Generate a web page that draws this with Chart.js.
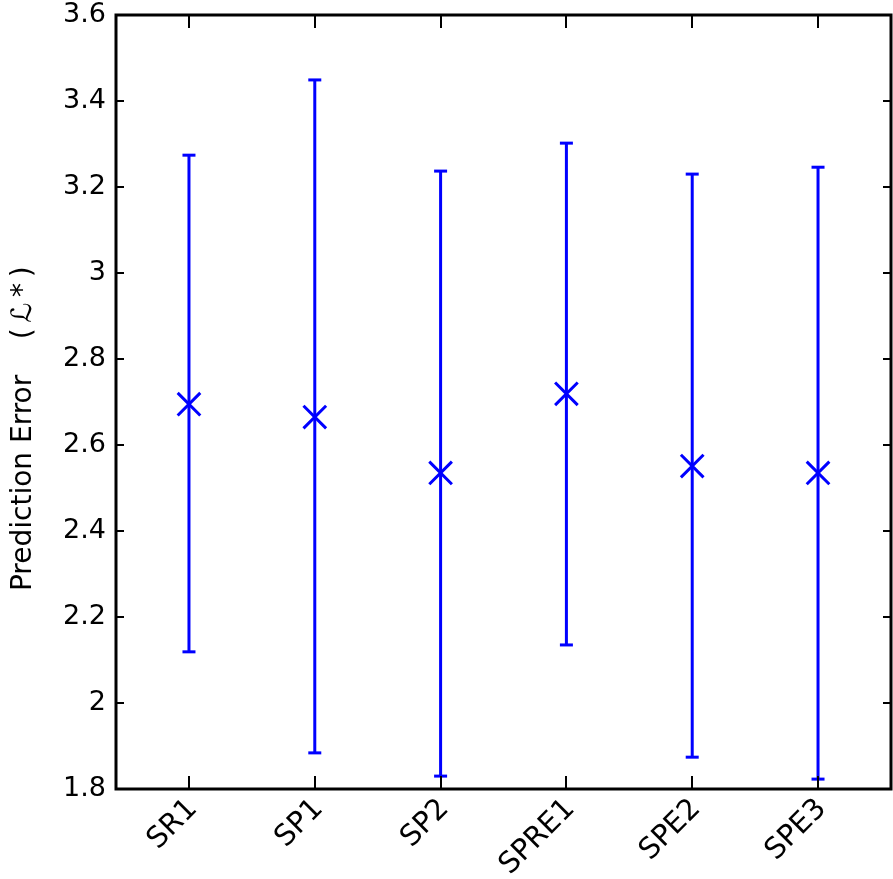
<!DOCTYPE html>
<html>
<head>
<meta charset="utf-8">
<script src="https://cdn.jsdelivr.net/npm/chart.js@4/dist/chart.umd.min.js"></script>
<style>
  html, body { margin: 0; padding: 0; background: #ffffff; overflow: hidden; }
  #wrap { width: 893px; height: 879px; }
</style>
</head>
<body>
<div id="wrap"><canvas id="c" width="893" height="879"></canvas></div>
<script>
// ---- data ----
const categories = ['SR1', 'SP1', 'SP2', 'SPRE1', 'SPE2', 'SPE3'];
const meanValues = [2.695, 2.665, 2.535, 2.719, 2.551, 2.535];
const upperValues = [3.274, 3.449, 3.237, 3.302, 3.230, 3.246];
const lowerValues = [2.119, 1.884, 1.830, 2.135, 1.874, 1.823];
const yTickValues = [1.8, 2.0, 2.2, 2.4, 2.6, 2.8, 3.0, 3.2, 3.4, 3.6];
const yAxisTitle = 'Prediction Error    (\u2009\u2112\u2009*\u2009)      ';

const BLUE = '#0000ff';

// error bar segments: low -> high, then a gap
const errorData = [];
categories.forEach((c, i) => {
  errorData.push({ x: i, y: lowerValues[i] });
  errorData.push({ x: i, y: upperValues[i] });
  errorData.push({ x: i, y: null });
});
const meanData = categories.map((c, i) => ({ x: i, y: meanValues[i] }));

const framePlugin = {
  id: 'frame',
  afterDraw(chart) {
    const { ctx, chartArea: a, scales } = chart;
    ctx.save();
    ctx.strokeStyle = '#000';
    ctx.lineWidth = 2;
    ctx.beginPath();
    yTickValues.forEach(v => {
      const py = Math.round(scales.y.getPixelForValue(v));
      ctx.moveTo(a.left, py); ctx.lineTo(a.left + 8, py);
      ctx.moveTo(a.right, py); ctx.lineTo(a.right - 8, py);
    });
    categories.forEach((c, i) => {
      const px = Math.round(scales.x.getPixelForValue(i));
      ctx.moveTo(px, a.bottom); ctx.lineTo(px, a.bottom - 13);
      ctx.moveTo(px, a.top); ctx.lineTo(px, a.top + 13);
    });
    ctx.stroke();
    ctx.lineWidth = 3;
    ctx.strokeRect(a.left, a.top, a.right - a.left, a.bottom - a.top);
    ctx.restore();
  }
};

new Chart(document.getElementById('c'), {
  type: 'line',
  data: {
    datasets: [
      {
        label: 'range',
        data: errorData,
        borderColor: BLUE,
        backgroundColor: BLUE,
        borderWidth: 3,
        spanGaps: false,
        pointStyle: 'line',
        pointRadius: 6.5,
        pointBorderWidth: 3,
        pointBorderColor: BLUE,
        pointHoverRadius: 6.5,
        tension: 0,
        fill: false
      },
      {
        label: 'mean',
        data: meanData,
        showLine: false,
        borderColor: BLUE,
        backgroundColor: BLUE,
        pointStyle: 'crossRot',
        pointRadius: 16,
        pointBorderWidth: 3,
        pointBorderColor: BLUE,
        pointHoverRadius: 16
      }
    ]
  },
  options: {
    responsive: false,
    animation: false,
    devicePixelRatio: 1,
    layout: { autoPadding: false, padding: { top: 15, right: 2, left: 0, bottom: 0 } },
    plugins: { legend: { display: false }, tooltip: { enabled: false } },
    scales: {
      x: {
        type: 'linear',
        min: -0.58,
        max: 5.58,
        grid: { display: false, drawTicks: false },
        border: { display: false },
        afterBuildTicks(scale) {
          scale.ticks = categories.map((c, i) => ({ value: i }));
        },
        afterFit(scale) {
          scale.height = 90;
          scale.paddingLeft = 0; scale.paddingRight = 0;
        },
        ticks: {
          autoSkip: false,
          maxRotation: 45,
          minRotation: 45,
          padding: 3,
          labelOffset: 4,
          color: '#000',
          font: { family: 'DejaVu Sans', size: 29 },
          callback: (v) => categories[v]
        }
      },
      y: {
        type: 'linear',
        min: 1.8,
        max: 3.6,
        grid: { display: false, drawTicks: false },
        border: { display: false },
        afterBuildTicks(scale) {
          scale.ticks = yTickValues.map(v => ({ value: v }));
        },
        afterFit(scale) {
          scale.width = 116;
          scale.paddingTop = 0; scale.paddingBottom = 0;
        },
        ticks: {
          padding: 10,
          color: '#000',
          font: { family: 'DejaVu Sans', size: 27 },
          callback: (v) => String(+(+v).toFixed(1))
        },
        title: {
          display: true,
          text: yAxisTitle,
          color: '#000',
          padding: { top: 7, bottom: 0 },
          font: { family: 'DejaVu Sans', size: 28 }
        }
      }
    }
  },
  plugins: [framePlugin]
});
</script>
</body>
</html>
